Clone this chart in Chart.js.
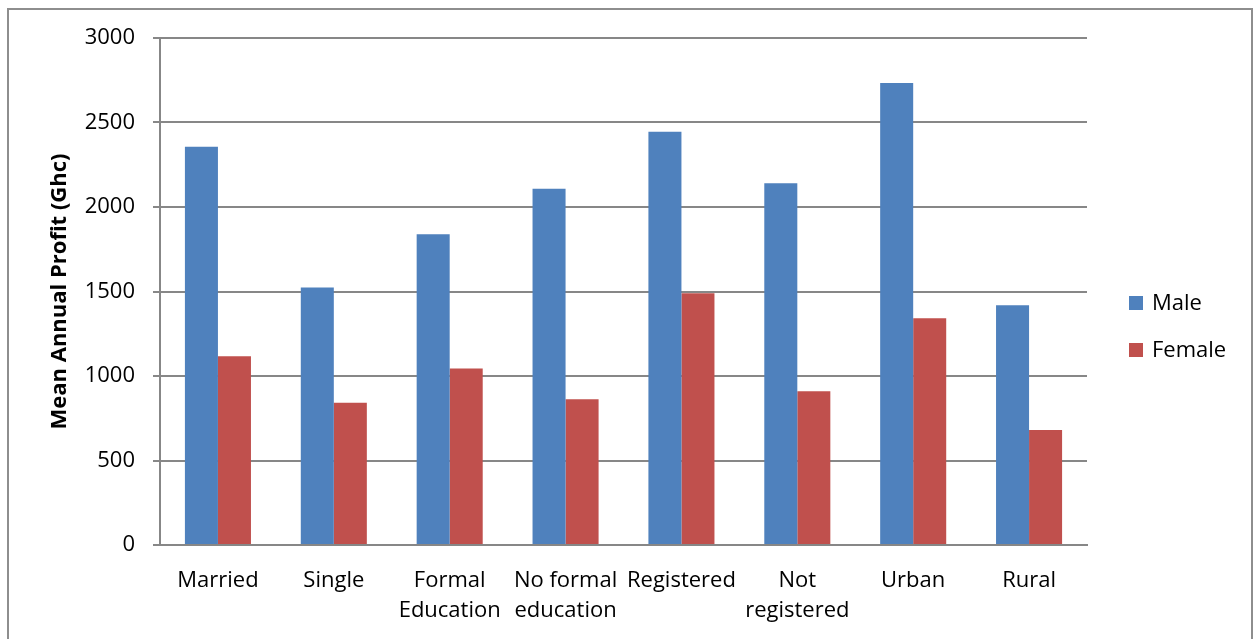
<!DOCTYPE html>
<html>
<head>
<meta charset="utf-8">
<title>Mean Annual Profit by Gender</title>
<script src="https://cdn.jsdelivr.net/npm/chart.js@4/dist/chart.umd.min.js"></script>
<style>
  html, body { margin: 0; padding: 0; background: #ffffff; overflow: hidden; }
  #wrap { position: relative; width: 1256px; height: 639px; }
  #profitChart { position: absolute; left: 0; top: 0; }
  #frame {
    position: absolute; left: 7px; top: 8px; width: 1246px; height: 700px;
    border: 2px solid #8e8e8e; box-sizing: border-box; pointer-events: none;
  }
</style>
</head>
<body>
<div id="wrap">
  <canvas id="profitChart" width="1256" height="639"></canvas>
  <div id="frame"></div>
</div>
<script>
// Categories (multi-line labels are arrays)
const categories = [
  'Married',
  'Single',
  ['Formal', 'Education'],
  ['No formal', 'education'],
  'Registered',
  ['Not', 'registered'],
  'Urban',
  'Rural'
];

// Mean annual profit (Ghc) by gender
const maleProfit   = [2356, 1523, 1839, 2108, 2445, 2141, 2733, 1419];
const femaleProfit = [1117,  841, 1044,  863, 1490,  910, 1342,  681];

const seriesNames = ['Male', 'Female'];
const yAxisTitle = 'Mean Annual Profit (Ghc)';
const yMin = 0;
const yMax = 3000;
const yStep = 500;

const FONT = '"Open Sans", "DejaVu Sans", sans-serif';
const GRID = '#878787';

// Legend drawn to the right of the plot area
const sideLegend = {
  id: 'sideLegend',
  afterDraw(chart) {
    const ctx = chart.ctx;
    const area = chart.chartArea;
    const boxX = area.right + 42;
    const firstY = 303;
    const gap = 47;
    ctx.save();
    ctx.font = '22px ' + FONT;
    ctx.textBaseline = 'middle';
    ctx.textAlign = 'left';
    chart.data.datasets.forEach((ds, i) => {
      const cy = firstY + i * gap;
      ctx.fillStyle = ds.backgroundColor;
      ctx.fillRect(boxX, cy - 7, 14, 14);
      ctx.fillStyle = '#000000';
      ctx.fillText(ds.label, boxX + 23, cy + 1);
    });
    ctx.restore();
  }
};

new Chart(document.getElementById('profitChart'), {
  type: 'bar',
  data: {
    labels: categories,
    datasets: [
      { label: seriesNames[0], data: maleProfit, backgroundColor: '#4F81BD' },
      { label: seriesNames[1], data: femaleProfit, backgroundColor: '#C0504D' }
    ]
  },
  options: {
    responsive: false,
    animation: false,
    devicePixelRatio: 1,
    categoryPercentage: 0.57,
    barPercentage: 1.0,
    layout: { padding: { left: 0, right: 169, top: 38, bottom: 0 } },
    plugins: {
      legend: { display: false },
      tooltip: { enabled: false }
    },
    scales: {
      x: {
        grid: { display: false, drawTicks: false },
        border: { display: true, color: GRID, width: 2 },
        ticks: {
          color: '#000000',
          font: { family: FONT, size: 22, lineHeight: 1.36 },
          padding: 21,
          maxRotation: 0,
          autoSkip: false
        },
        afterFit(scale) { scale.height = 94; }
      },
      y: {
        min: yMin,
        max: yMax,
        grid: { color: GRID, lineWidth: 2, tickLength: 7, drawTicks: true },
        border: { display: true, color: GRID, width: 2 },
        ticks: {
          stepSize: yStep,
          color: '#000000',
          font: { family: FONT, size: 22 },
          padding: 18,
          callback: (value) => String(value)
        },
        title: {
          display: true,
          text: yAxisTitle,
          color: '#000000',
          font: { family: FONT, size: 22, weight: 'bold', lineHeight: 1.2 },
          padding: { top: 47, bottom: 0 }
        },
        afterFit(scale) { scale.width = 160; }
      }
    }
  },
  plugins: [sideLegend]
});
</script>
</body>
</html>
